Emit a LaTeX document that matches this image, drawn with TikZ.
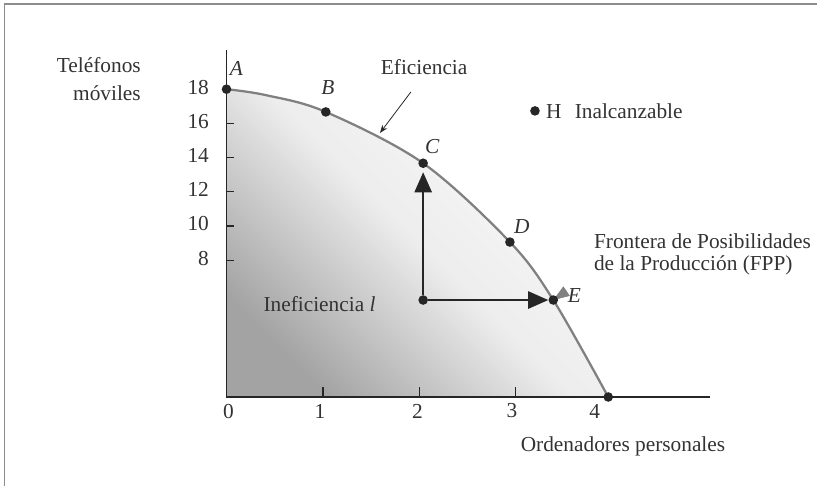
\documentclass[tikz,border=0pt]{standalone}
\usepackage{fontspec}
\setmainfont{Liberation Serif}
\usetikzlibrary{arrows.meta,positioning}

\tikzset{
  dot/.style={circle,fill=black!85,inner sep=0,minimum size=7.2pt},
  txt/.style={text=black!80,inner sep=0,font=\fontsize{16}{19}\selectfont},
  ptlab/.style={txt,font=\fontsize{16}{19}\selectfont\itshape},
  fpp/.style={black!50,line width=1.7pt},
  axis/.style={black!85,line width=1pt},
  bigarrow/.style={black!85,line width=1pt,-{Triangle[length=15pt,width=13pt]}},
  thinarrow/.style={black!85,line width=.6pt,-{Stealth[length=6pt,width=4.5pt]}},
  frame/.style={black!45,line width=1.1pt}
}

\begin{document}
\begin{tikzpicture}[x=72.3pt,y=12.825pt]
\useasboundingbox (-2.3496,-5.2047) rectangle (6.1255,23.216);
\draw[frame] (-2.303,-5.21) |- (6.13,22.98);

% points on the frontier
\coordinate (pA) at (0,18);
\coordinate (p1) at (0.41,17.65);
\coordinate (pB) at (1.03,16.67);
\coordinate (pC) at (2.04,13.67);
\coordinate (pD) at (2.94,9.06);
\coordinate (pE) at (3.39,5.67);
\coordinate (pF) at (3.96,0);

\shade[bottom color=black!36,top color=black!2,middle color=black!7,shading angle=-45]
	(0,0) -- plot[smooth,tension=.55] coordinates {(pA) (p1) (pB) (pC) (pD) (pE) (pF)} -- cycle;
\draw[fpp] plot[smooth,tension=.55] coordinates {(pA) (p1) (pB) (pC) (pD) (pE) (pF)};

% axes
\draw[axis] (0,20.3) -- (0,0) -- (5.016,0);
\foreach \y in {8,10,...,16}
	\draw[axis] (0,\y) -- ++(0.073,0);
\foreach \y in {8,10,...,18}
	\node[txt,anchor=east,yshift=1.5pt] at (-0.18,\y) {\y};
\foreach \x in {1,2,3}
	\draw[axis] (\x,0) -- ++(0,0.585);
\foreach \x/\p in {0/0.02,1/0.97,2/1.98,3/2.96,4/3.82}
	\node[txt] at (\p,-0.82) {\x};

\node[txt,anchor=east,align=right,font=\fontsize{16}{21}\selectfont] (ylab) at (-0.887,18.6) {Teléfonos\\móviles};
\node[txt] (xlab) at (4.113,-2.865) {Ordenadores personales};

% labels
\node[txt] (efic) at (2.05,19.3) {Eficiencia};
\node[txt] (inef) at (0.965,5.44) {Ineficiencia \textit{l}};
\node[txt,anchor=west,align=left,font=\fontsize{16}{16.5}\selectfont] (front) at (3.81,8.36) {Frontera de Posibilidades\\de la Producción (FPP)};

\coordinate (eftail) at (1.913,17.84);
\coordinate (eftip) at (1.592,15.44);
\draw[thinarrow] (eftail) -- (eftip);

\coordinate (fptail) at (3.53,6.2);
\draw[black!50,-{Triangle[length=12pt,width=8.5pt]}] (fptail) -- (pE);

% inefficient point and moves
\node[dot] (S) at (2.04,5.67) {};
\node[dot] (A) at (pA) {};
\node[dot] (B) at (pB) {};
\node[dot] (C) at (pC) {};
\node[dot] (D) at (pD) {};
\node[dot] (E) at (pE) {};
\node[dot] (F) at (pF) {};
\draw[bigarrow,shorten >=3pt] (S) -- (C);
\draw[bigarrow] (S) -- (E);

\node[ptlab] (labA) at ([shift={(7.5pt,15.75pt)}]A) {A};
\node[ptlab] (labB) at ([shift={(1.5pt,18pt)}]B) {B};
\node[ptlab] (labC) at ([shift={(6.75pt,12.75pt)}]C) {C};
\node[ptlab] (labD) at ([shift={(9pt,12pt)}]D) {D};
\node[ptlab] (labE) at ([shift={(15.75pt,3.75pt)}]E) {E};

% unattainable point
\node[dot] (H) at (3.2,16.73) {};
\node[txt,right=4.3pt of H] (hlab) {H\hspace{10pt}Inalcanzable};
\end{tikzpicture}
\end{document}
